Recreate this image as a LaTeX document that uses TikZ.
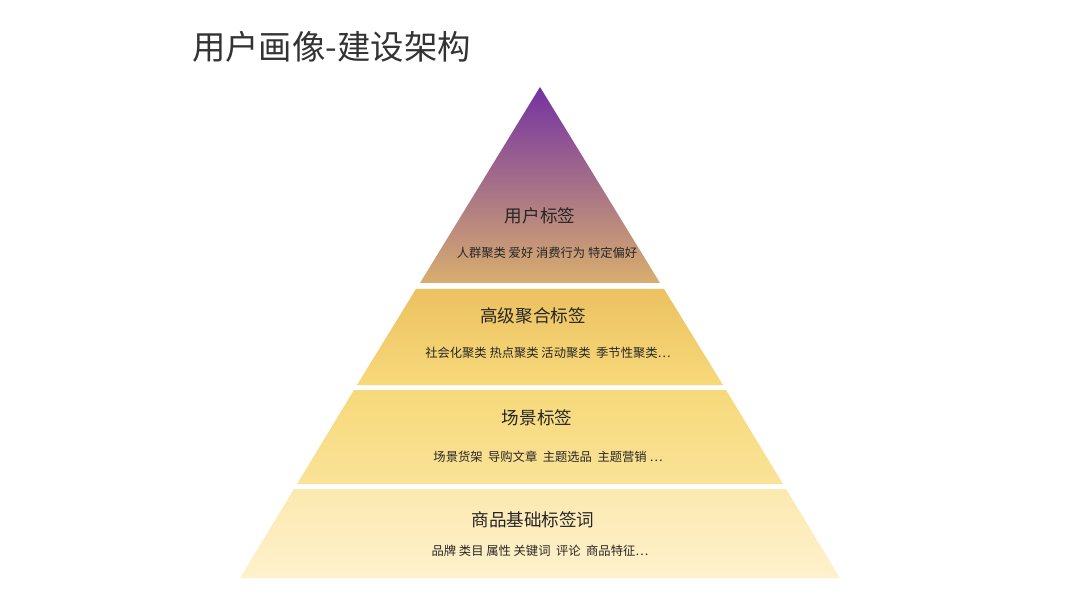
\documentclass[tikz,border=0pt]{standalone}
\usepackage{fontspec}
\setmainfont{Noto Sans CJK SC}
\usetikzlibrary{positioning}
\definecolor{purpletop}{HTML}{7432A2}
\definecolor{tanmid}{HTML}{D8AE6E}
\definecolor{goldtop}{HTML}{EFC45E}
\definecolor{goldlow}{HTML}{F7D97A}
\definecolor{paletop}{HTML}{F9E08E}
\definecolor{palelow}{HTML}{FCE9B0}
\definecolor{palest}{HTML}{FEF1CC}
\tikzstyle{layertitle}=[font=\fontsize{10pt}{12pt}\selectfont,text=black!85]
\tikzstyle{layeritems}=[font=\fontsize{7pt}{8pt}\selectfont,text=black!85]
\begin{document}
\begin{tikzpicture}[x=0.02cm,y=-0.02cm]
  \useasboundingbox (0,0) rectangle (1080,608);
  % title
  \node[anchor=west,font=\fontsize{19pt}{22pt}\selectfont,text=black!80] (title) at (186,47) {用户画像-建设架构};

  % layers (half width = 0.611 * (y - 87))
  \shade[top color=purpletop,bottom color=tanmid] (540,87) -- (660,283) -- (420,283) -- cycle;
  \shade[top color=goldtop!85!tanmid,bottom color=goldlow] (416,289) -- (664,289) -- (723,385) -- (357,385) -- cycle;
  \shade[top color=goldlow,bottom color=paletop!70!palelow] (354,390) -- (726,390) -- (783,484) -- (297,484) -- cycle;
  \shade[top color=palelow,bottom color=palest] (294,489) -- (786,489) -- (840,578) -- (240,578) -- cycle;

  % texts
  \node[layertitle] (usertag) at (540,216) {用户标签};
  \node[layeritems] (useritems) at (547,253) {人群聚类 爱好 消费行为 特定偏好};
  \node[layertitle] (aggtag) at (533,316) {高级聚合标签};
  \node[layeritems] (aggitems) at (548,353) {社会化聚类 热点聚类 活动聚类\ \ 季节性聚类…};
  \node[layertitle] (scenetag) at (537,418) {场景标签};
  \node[layeritems] (sceneitems) at (548,457) {场景货架\ \ 导购文章\ \ 主题选品\ \ 主题营销 …};
  \node[layertitle] (basetag) at (533,520) {商品基础标签词};
  \node[layeritems] (baseitems) at (540,551) {品牌 类目 属性 关键词\ \ 评论\ \ 商品特征…};
\end{tikzpicture}
\end{document}
